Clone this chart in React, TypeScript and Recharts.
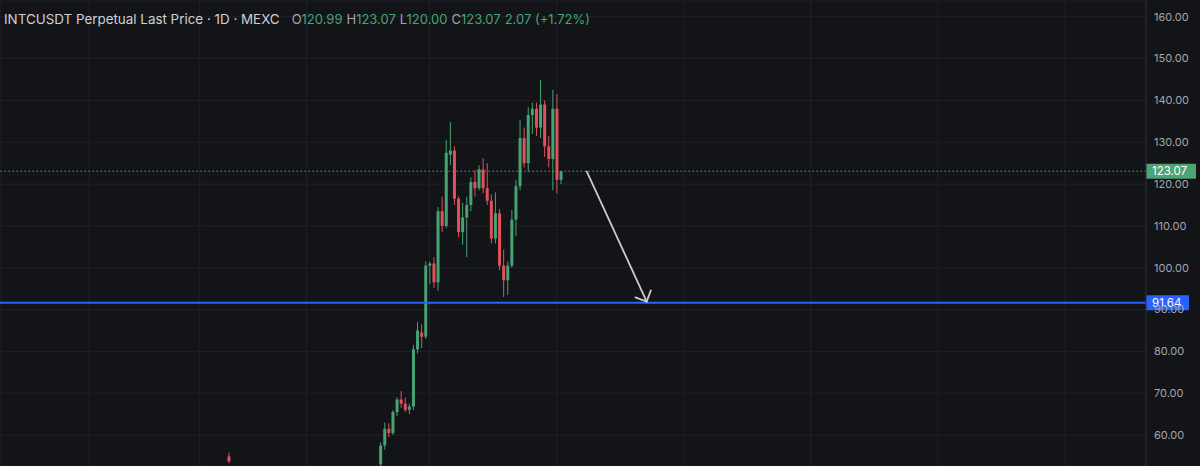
import { ComposedChart, Bar, XAxis, YAxis, CartesianGrid, ReferenceLine } from "recharts"

// day index of each daily candle (the first one sits alone, the rest are off-screen below)
const days = [
  0,
  37, 38, 39, 40, 41, 42, 43, 44, 45, 46, 47, 48, 49, 50, 51,
  52, 53, 54, 55, 56, 57, 58, 59, 60, 61, 62, 63, 64, 65, 66,
  67, 68, 69, 70, 71, 72, 73, 74, 75, 76, 77, 78, 79, 80, 81,
]
const opens = [
  54.9,
  53.0, 57.5, 61.5, 60.5, 65.5, 68.5, 67.5, 66.0, 66.8, 80.5, 84.5, 83.5, 100.5, 101.0, 96.5,
  113.5, 110.0, 127.0, 128.0, 116.5, 108.5, 112.0, 115.0, 120.5, 119.0, 123.5, 119.0, 116.0, 107.0, 113.0,
  100.5, 97.0, 100.5, 111.5, 119.5, 131.0, 125.0, 136.5, 138.0, 133.5, 139.0, 129.0, 126.0, 138.0, 120.99,
]
const highs = [
  55.8,
  58.3, 63.0, 62.8, 66.0, 69.0, 70.5, 69.0, 67.5, 81.5, 87.0, 86.5, 101.5, 101.5, 102.5, 114.5,
  117.0, 130.5, 134.8, 129.0, 117.0, 115.5, 117.0, 121.6, 123.3, 124.5, 126.2, 125.0, 117.5, 118.0, 114.0,
  104.3, 101.5, 113.8, 121.0, 135.3, 133.5, 138.4, 139.5, 139.5, 144.9, 140.0, 131.5, 142.5, 141.5, 123.07,
]
const lows = [
  53.3,
  51.0, 56.5, 59.5, 60.0, 64.5, 66.5, 65.5, 65.0, 66.0, 79.5, 80.8, 83.0, 96.0, 95.2, 94.5,
  108.5, 109.5, 124.5, 115.0, 107.3, 105.5, 102.5, 113.5, 117.0, 118.5, 117.8, 115.0, 105.8, 105.8, 99.4,
  93.0, 93.5, 100.0, 107.5, 118.5, 124.0, 123.0, 132.0, 131.5, 131.0, 126.5, 124.0, 118.5, 117.8, 120.0,
]
const closes = [
  53.7,
  57.5, 61.5, 60.5, 65.5, 68.5, 67.5, 66.0, 66.8, 80.5, 85.0, 83.5, 100.5, 101.0, 96.5, 113.5,
  110.0, 127.5, 128.0, 116.5, 108.5, 112.0, 115.0, 120.5, 119.0, 123.5, 119.0, 116.0, 107.0, 113.0, 100.5,
  97.0, 100.5, 111.5, 119.5, 131.0, 125.0, 136.5, 138.0, 133.5, 139.0, 129.0, 126.0, 138.0, 120.99, 123.07,
]

const priceTicks = [60, 70, 80, 90, 100, 110, 120, 130, 140, 150, 160]
const monthStarts = [-34, -7, 19, 49, 80, 111, 142, 173, 204]

const lastPrice = 123.07
const supportPrice = 91.64
const arrowFrom = { day: 87.4, price: 123.0 }
const arrowTo = { day: 102.0, price: 91.9 }

const title = "INTCUSDT Perpetual Last Price · 1D · MEXC"
const ohlcLabels = ["O", "H", "L", "C"]
const ohlcValues = ["120.99", "123.07", "120.00", "123.07"]
const changeText = "2.07 (+1.72%)"

const data = days.map((day, i) => ({
  day,
  open: opens[i],
  high: highs[i],
  low: lows[i],
  close: closes[i],
}))

const BG = "#131418"
const GRID = "#1f2127"
const UP = "#45a374"
const DOWN = "#e0515d"
const TEXT = "#a3a6ae"
const FONT = "Inter, 'Noto Sans', sans-serif"

function Candle(props: any) {
  const { x, y, width, height, payload } = props
  const { open, close, high, low } = payload
  const color = close >= open ? UP : DOWN
  const ratio = high === low ? 0 : height / (high - low)
  const yOpen = y + (high - open) * ratio
  const yClose = y + (high - close) * ratio
  const cx = x + width / 2
  const top = Math.min(yOpen, yClose)
  const h = Math.max(1, Math.abs(yOpen - yClose))
  return (
    <g>
      <line x1={cx} x2={cx} y1={y} y2={y + height} stroke={color} strokeWidth={1} />
      <rect x={x} y={top} width={width} height={h} fill={color} />
    </g>
  )
}

function PriceTag(props: any) {
  const { viewBox, text, fill, w } = props
  if (!viewBox) return null
  const x = viewBox.x + viewBox.width
  const y = viewBox.y
  return (
    <g>
      <rect x={x} y={y - 7.5} width={w} height={15} fill={fill} rx={1} />
      <text x={x + 6} y={y} dy="0.35em" fill="#ffffff" fontSize={11.5} fontFamily={FONT}>
        {text}
      </text>
    </g>
  )
}

function Arrow(props: any) {
  const { x1, y1, x2, y2 } = props
  if (x1 == null) return null
  const dx = x2 - x1
  const dy = y2 - y1
  const len = Math.sqrt(dx * dx + dy * dy)
  const bx = -dx / len
  const by = -dy / len
  const head = 12
  const a = Math.PI / 4
  const l = { x: x2 + head * (bx * Math.cos(a) - by * Math.sin(a)), y: y2 + head * (bx * Math.sin(a) + by * Math.cos(a)) }
  const r = { x: x2 + head * (bx * Math.cos(-a) - by * Math.sin(-a)), y: y2 + head * (bx * Math.sin(-a) + by * Math.cos(-a)) }
  return (
    <g stroke="#c9cbd1" strokeWidth={1.8} strokeLinecap="round" fill="none">
      <line x1={x1} y1={y1} x2={x2} y2={y2} />
      <polyline points={`${l.x},${l.y} ${x2},${y2} ${r.x},${r.y}`} />
    </g>
  )
}

export default function App() {
  return (
    <div style={{ position: "relative", width: 1200, height: 466, background: BG, overflow: "hidden" }}>
      <style>{`body{margin:0;background:${BG}}`}</style>
      <ComposedChart width={1200} height={466} data={data} margin={{ top: 0, right: 0, bottom: 0, left: 0 }}>
        <CartesianGrid stroke={GRID} strokeWidth={1} />
        <XAxis
          dataKey="day"
          type="number"
          domain={[-55.73, 223.78]}
          ticks={monthStarts}
          allowDataOverflow
          hide
        />
        <YAxis
          orientation="right"
          width={54}
          domain={[52.6, 164]}
          allowDataOverflow
          ticks={priceTicks}
          tickFormatter={(v: number) => v.toFixed(2)}
          tickLine={false}
          tickSize={0}
          tickMargin={8}
          axisLine={{ stroke: "#2a2c33" }}
          tick={{ fill: TEXT, fontSize: 11, fontFamily: FONT }}
        />
        <Bar
          dataKey={(d: any) => [d.low, d.high]}
          barSize={3}
          shape={<Candle />}
          isAnimationActive={false}
        />
        <ReferenceLine
          y={lastPrice}
          stroke="#4fb07c"
          strokeDasharray="1.5 2.5"
          label={<PriceTag text={lastPrice.toFixed(2)} fill="#4ca374" w={50} />}
        />
        <ReferenceLine
          y={supportPrice}
          stroke="#2962ff"
          strokeWidth={2}
          label={<PriceTag text={supportPrice.toFixed(2)} fill="#2962ff" w={43} />}
        />
        <ReferenceLine
          segment={[
            { x: arrowFrom.day, y: arrowFrom.price },
            { x: arrowTo.day, y: arrowTo.price },
          ]}
          shape={<Arrow />}
        />
      </ComposedChart>
      <div
        style={{
          position: "absolute",
          left: 4,
          top: 11,
          fontFamily: FONT,
          fontSize: 13.4,
          lineHeight: "16px",
          whiteSpace: "nowrap",
          color: "#cfd1d7",
        }}
      >
        <span>{title}</span>
        <span style={{ marginLeft: 12, fontSize: 13 }}>
          {ohlcLabels.map((lab, i) => (
            <span key={lab} style={{ marginRight: 4 }}>
              <span style={{ color: TEXT }}>{lab}</span>
              <span style={{ color: UP }}>{ohlcValues[i]}</span>
            </span>
          ))}
          <span style={{ color: UP }}>{changeText}</span>
        </span>
      </div>
    </div>
  )
}
